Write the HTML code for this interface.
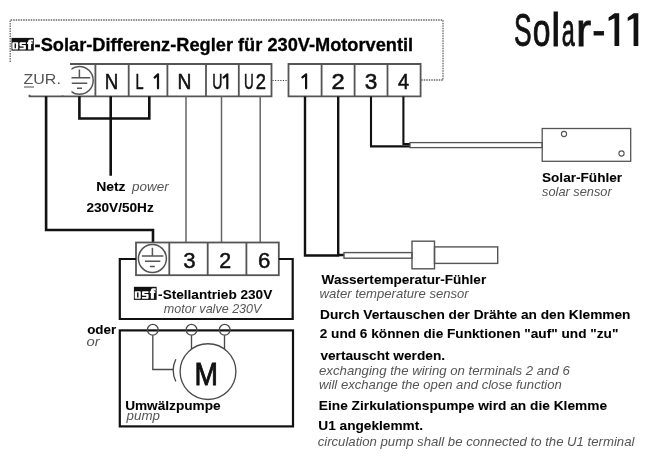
<!DOCTYPE html>
<html><head><meta charset="utf-8">
<style>
html,body{margin:0;padding:0;background:#fff;width:652px;height:459px;overflow:hidden}
svg{position:absolute;left:0;top:0;display:block;will-change:transform}
text{font-family:"Liberation Sans",sans-serif}
</style></head><body>
<svg width="652" height="459" viewBox="0 0 652 459">
<defs>
<clipPath id="cl1"><rect x="71.5" y="0" width="100" height="200"/></clipPath>

</defs>
<!-- dotted outline -->
<path d="M10.2 62 V20 H443 V80 H421" fill="none" stroke="#666" stroke-width="1.3" stroke-dasharray="1.5 1"/>
<path d="M272.5 80.5 H288" fill="none" stroke="#333" stroke-width="1.1" stroke-dasharray="1.1 1.5"/>
<g transform="translate(11.5 37.9)">
<rect x="0" y="0" width="22.3" height="12.7" fill="#111"/>
<path fill="#fff" d="M1.6 4.3 H5.9 Q6.7 4.3 6.7 5.1 V10.8 Q6.7 11.6 5.9 11.6 H1.6 Q0.8 11.6 0.8 10.8 V5.1 Q0.8 4.3 1.6 4.3 Z M8.8 4.3 H14.3 V6.1 H10.3 V7.1 H13.6 Q14.4 7.1 14.4 7.9 V10.8 Q14.4 11.6 13.6 11.6 H8 V9.9 H12.1 V8.7 H8.8 Q8 8.7 8 7.9 V5.1 Q8 4.3 8.8 4.3 Z M16.6 11.6 V6.1 H15.6 V4.3 H16.6 V3.2 Q16.9 1.5 18.6 1.5 H21.4 V3.5 H19.6 V4.3 H21 V6.1 H19.6 V11.6 Z"/>
<path fill="#111" d="M3.1 5.5 H4.5 V10.4 H3.1 Z"/>
</g>

<!-- top terminal blocks -->
<g fill="none" stroke="#555" stroke-width="1.8">
<path d="M70 64 H271.5 V96.4 H29.5 V94.8 M62.6 96.4 V95.2"/>
<path d="M95.4 64 V96.3 M128.7 64 V96.3 M167.4 64 V96.3 M206 64 V96.3 M238.8 64 V96.3"/>
<path d="M288.5 64 H420.6 V96.3 H288.5 Z M321.6 64 V96.3 M354.6 64 V96.3 M387.5 64 V96.3"/>
</g>
<g clip-path="url(#cl1)" fill="none" stroke="#555" stroke-width="1.5">
<circle cx="79.3" cy="80.4" r="13.9"/>
<path d="M79.4 69.4 V77.7 M68.5 77.7 H90.2 M71.5 83.2 H87.3 M77 88.2 H82"/>
</g>
<path d="M24 87 H34" stroke="#888" stroke-width="1.5"/>
<!-- big ones -->
<path fill="#111" d="M614.5 13.3 H619.2 V46 H614.5 V18.3 L608.6 21 V17.4 Z M633.6 13.3 H638.3 V46 H633.6 V18.3 L627.7 21 V17.4 Z"/>
<!-- ones -->
<g fill="none" stroke="#111" stroke-width="2.2" stroke-linecap="round" stroke-linejoin="round">
<path d="M154.6 77.6 L158 74.3 V88.3"/>
<path d="M223.5 77.6 L227.3 74.3 V88.3"/>
<path d="M302.4 77.4 L306.1 74.3 V88.3"/>
</g>

<!-- black wires -->
<g fill="none" stroke="#111" stroke-width="2.6">
<path d="M46.1 96.3 V230 H153 V242.5"/>
<path d="M79.4 96.3 V118.5 H149.3 V96.3 M110.7 96.3 V175.8"/>
<path d="M305 96.5 V255.5 H338.2 V96.5 M338.2 255 H344" stroke-width="2.4"/>
<path d="M371 96.5 V146.4 H410 M403.4 96.5 V144 H410" stroke-width="2.1"/>
</g>
<!-- gray wires -->
<g fill="none" stroke="#666" stroke-width="1.5">
<path d="M186 96.3 V242.5 M221.5 96.3 V242.5 M260.2 96.3 V242.5"/>
</g>
<!-- solar sensor -->
<g fill="none" stroke="#555" stroke-width="1.3">
<rect x="410" y="142.6" width="132.2" height="5"/>
<rect x="542.2" y="128.5" width="88.5" height="32.8"/>
<circle cx="564" cy="134" r="2.6" stroke-width="1.1"/>
<circle cx="621.5" cy="153.5" r="2.6" stroke-width="1.1"/>
</g>

<!-- water sensor -->
<g fill="none" stroke="#555" stroke-width="1.4">
<rect x="344" y="252.6" width="68" height="5.6"/>
<rect x="412" y="241.2" width="22.5" height="27.6"/>
<rect x="434.5" y="246.9" width="63.2" height="16.5"/>
</g>

<!-- lower terminal block -->
<g fill="none" stroke="#555" stroke-width="1.8">
<rect x="136" y="242.5" width="142.8" height="32.7"/>
<path d="M169.3 242.5 V275.2 M207.7 242.5 V275.2 M246.4 242.5 V275.2"/>
</g>
<g fill="none" stroke="#555" stroke-width="1.5">
<circle cx="152.4" cy="258.5" r="14"/>
<path d="M152.4 247.8 V256 M141.9 256 H163.4 M145 261.3 H160.3 M149.9 266.4 H154.8"/>
</g>
<!-- actuator box -->
<g fill="none" stroke="#111" stroke-width="2.2">
<path d="M136 259 H119.8 V319 H292.7 V259 H278.8"/>
<rect x="119.8" y="330.4" width="173.2" height="96"/>
</g>
<g transform="translate(133.9 286.8) scale(1.02 1.03)">
<rect x="0" y="0" width="22.3" height="12.7" fill="#111"/>
<path fill="#fff" d="M1.6 4.3 H5.9 Q6.7 4.3 6.7 5.1 V10.8 Q6.7 11.6 5.9 11.6 H1.6 Q0.8 11.6 0.8 10.8 V5.1 Q0.8 4.3 1.6 4.3 Z M8.8 4.3 H14.3 V6.1 H10.3 V7.1 H13.6 Q14.4 7.1 14.4 7.9 V10.8 Q14.4 11.6 13.6 11.6 H8 V9.9 H12.1 V8.7 H8.8 Q8 8.7 8 7.9 V5.1 Q8 4.3 8.8 4.3 Z M16.6 11.6 V6.1 H15.6 V4.3 H16.6 V3.2 Q16.9 1.5 18.6 1.5 H21.4 V3.5 H19.6 V4.3 H21 V6.1 H19.6 V11.6 Z"/>
<path fill="#111" d="M3.1 5.5 H4.5 V10.4 H3.1 Z"/>
</g>

<!-- pump -->
<g fill="none" stroke="#4a4a4a" stroke-width="1.35">
<circle cx="152.8" cy="329.8" r="5.4"/>
<circle cx="191.5" cy="329.8" r="5.4"/>
<circle cx="224.7" cy="329.8" r="5.4"/>
<path d="M152.8 335.2 V369.5 H173.1"/>
<path d="M191.5 335.2 V349 M224.5 335.2 V349"/>
<circle cx="208" cy="371.6" r="27.9"/>
<path d="M175.8 359.2 Q170.5 370.3 175.8 381.5"/>
</g>

<text transform="translate(34.60 50.90) scale(1.0300 1)" font-weight="bold" fill="#000" stroke="#000" stroke-width="0.3" font-size="17.7">-Solar-Differenz-Regler für 230V-Motorventil</text>
<text transform="translate(514.05 45.80) scale(0.5741 1)" fill="#111" stroke="#111" stroke-width="0.9" font-size="46">S</text>
<text transform="translate(532.81 45.80) scale(0.6913 1)" fill="#111" stroke="#111" stroke-width="0.9" font-size="46">o</text>
<text transform="translate(551.26 45.80) scale(0.8800 1)" fill="#111" stroke="#111" stroke-width="0.9" font-size="46">l</text>
<text transform="translate(561.69 45.80) scale(0.5080 1)" fill="#111" stroke="#111" stroke-width="0.9" font-size="46">a</text>
<text transform="translate(576.05 45.80) scale(0.9833 1)" fill="#111" stroke="#111" stroke-width="0.9" font-size="46">r</text>
<text transform="translate(592.14 45.80) scale(0.8615 1)" fill="#111" stroke="#111" stroke-width="0.9" font-size="46">-</text>
<text transform="translate(23.56 83.90) scale(1.1433 1)" fill="#555" font-size="14">ZUR.</text>
<text transform="translate(96.15 191.40) scale(1.0481 1)" font-weight="bold" fill="#000" stroke="#000" stroke-width="0.08" font-size="13.3">Netz</text>
<text transform="translate(132.00 191.40) scale(0.9892 1)" font-style="italic" fill="#555" font-size="13.6">power</text>
<text transform="translate(86.40 211.80) scale(1.0556 1)" font-weight="bold" fill="#000" stroke="#000" stroke-width="0.08" font-size="12.9">230V/50Hz</text>
<text transform="translate(542.00 181.70) scale(1.0000 1)" font-weight="bold" fill="#000" stroke="#000" stroke-width="0.08" font-size="13.6">Solar-Fühler</text>
<text transform="translate(542.06 195.50) scale(0.9411 1)" font-style="italic" fill="#555" font-size="13.6">solar sensor</text>
<text transform="translate(321.60 283.60) scale(0.9982 1)" font-weight="bold" fill="#000" stroke="#000" stroke-width="0.08" font-size="13.6">Wassertemperatur-Fühler</text>
<text transform="translate(319.54 298.30) scale(0.9630 1)" font-style="italic" fill="#555" font-size="13.6">water temperature sensor</text>
<text transform="translate(319.99 318.70) scale(1.0078 1)" font-weight="bold" fill="#000" stroke="#000" stroke-width="0.08" font-size="13.6">Durch Vertauschen der Drähte an den Klemmen</text>
<text transform="translate(319.70 337.90) scale(1.0044 1)" font-weight="bold" fill="#000" stroke="#000" stroke-width="0.08" font-size="13.6">2 und 6 können die Funktionen "auf" und "zu"</text>
<text transform="translate(320.40 360.30) scale(1.0073 1)" font-weight="bold" fill="#000" stroke="#000" stroke-width="0.08" font-size="13.6">vertauscht werden.</text>
<text transform="translate(319.03 374.90) scale(0.9704 1)" font-style="italic" fill="#555" font-size="13.6">exchanging the wiring on terminals 2 and 6</text>
<text transform="translate(319.04 388.50) scale(0.9644 1)" font-style="italic" fill="#555" font-size="13.6">will exchange the open and close function</text>
<text transform="translate(318.79 410.10) scale(1.0102 1)" font-weight="bold" fill="#000" stroke="#000" stroke-width="0.08" font-size="13.6">Eine Zirkulationspumpe wird an die Klemme</text>
<text transform="translate(318.29 429.80) scale(1.0058 1)" font-weight="bold" fill="#000" stroke="#000" stroke-width="0.08" font-size="13.6">U1 angeklemmt.</text>
<text transform="translate(317.63 445.50) scale(0.9688 1)" font-style="italic" fill="#555" font-size="13.6">circulation pump shall be connected to the U1 terminal</text>
<text transform="translate(158.10 299.10) scale(1.0009 1)" font-weight="bold" fill="#000" stroke="#000" stroke-width="0.08" font-size="13.6">-Stellantrieb 230V</text>
<text transform="translate(163.80 313.10) scale(0.9667 1)" font-style="italic" fill="#555" font-size="13">motor valve 230V</text>
<text transform="translate(87.20 333.60) scale(1.0069 1)" font-weight="bold" fill="#000" stroke="#000" stroke-width="0.08" font-size="13.3">oder</text>
<text transform="translate(86.51 345.80) scale(1.0909 1)" font-style="italic" fill="#555" font-size="13.6">or</text>
<text transform="translate(125.14 409.90) scale(1.0596 1)" font-weight="bold" fill="#000" stroke="#000" stroke-width="0.08" font-size="12.9">Umwälzpumpe</text>
<text transform="translate(126.60 420.00) scale(0.9824 1)" font-style="italic" fill="#555" font-size="13.6">pump</text>
<text transform="translate(194.48 384.80) scale(0.9091 1)" fill="#111" stroke="#111" stroke-width="0.9" font-size="31">M</text>
<text transform="translate(104.83 88.80) scale(0.8692 1)" fill="#111" stroke="#111" stroke-width="0.55" font-size="21.6">N</text>
<text transform="translate(135.43 88.80) scale(0.6727 1)" fill="#111" stroke="#111" stroke-width="0.55" font-size="21.6">L</text>
<text transform="translate(177.51 88.80) scale(0.8923 1)" fill="#111" stroke="#111" stroke-width="0.55" font-size="21.6">N</text>
<text transform="translate(212.15 88.80) scale(0.6538 1)" fill="#111" stroke="#111" stroke-width="0.55" font-size="21.6">U</text>
<text transform="translate(243.98 88.80) scale(0.6231 1)" fill="#111" stroke="#111" stroke-width="0.55" font-size="21.6">U</text>
<text transform="translate(255.65 88.80) scale(0.8500 1)" fill="#111" stroke="#111" stroke-width="0.55" font-size="21.6">2</text>
<text transform="translate(331.50 88.80) scale(1.1000 1)" fill="#111" stroke="#111" stroke-width="0.55" font-size="21.6">2</text>
<text transform="translate(364.65 88.80) scale(1.0455 1)" fill="#111" stroke="#111" stroke-width="0.55" font-size="21.6">3</text>
<text transform="translate(397.90 88.80) scale(0.9250 1)" fill="#111" stroke="#111" stroke-width="0.55" font-size="21.6">4</text>
<text transform="translate(183.29 267.80) scale(1.0091 1)" fill="#111" stroke="#111" stroke-width="0.5" font-size="22">3</text>
<text transform="translate(219.23 267.80) scale(0.9727 1)" fill="#111" stroke="#111" stroke-width="0.5" font-size="22">2</text>
<text transform="translate(257.89 267.80) scale(1.0091 1)" fill="#111" stroke="#111" stroke-width="0.5" font-size="22">6</text>
</svg>
</body></html>
